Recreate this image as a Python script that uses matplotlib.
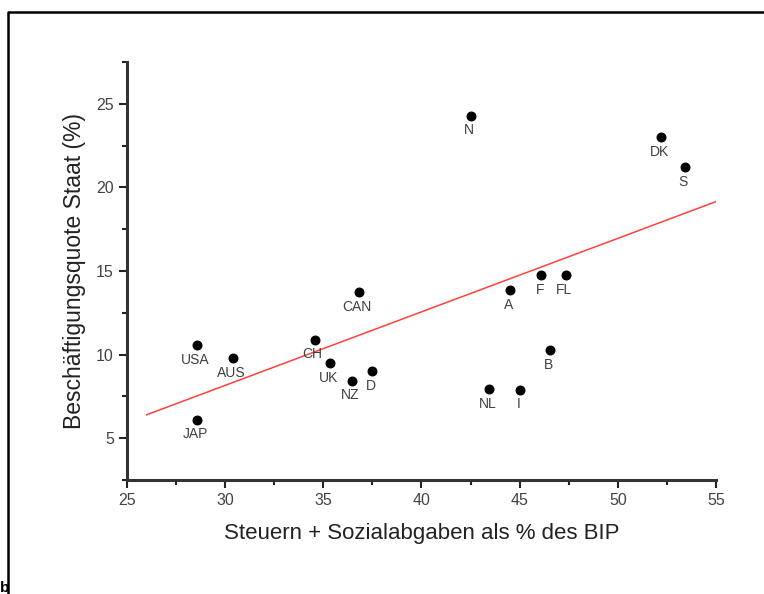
import matplotlib.pyplot as plt
from matplotlib.lines import Line2D
from matplotlib.ticker import MultipleLocator

plt.rcParams['font.family'] = ['Liberation Sans', 'DejaVu Sans']

# Länder, Steuerquote (x) und Beschäftigungsquote Staat (y)
laender = ['N', 'DK', 'S', 'CAN', 'A', 'F', 'FL', 'CH', 'USA', 'AUS',
           'UK', 'NZ', 'D', 'B', 'NL', 'I', 'JAP']
steuern = [42.5, 52.2, 53.4, 36.8, 44.5, 46.1, 47.35, 34.6, 28.55, 30.4,
           35.35, 36.45, 37.5, 46.55, 43.45, 45.0, 28.55]
staat = [24.3, 23.0, 21.2, 13.75, 13.85, 14.75, 14.75, 10.9, 10.55, 9.8,
         9.5, 8.45, 9.0, 10.25, 7.95, 7.9, 6.1]

# Regressionsgerade (Endpunkte)
fit_x = [26.0, 55.0]
fit_y = [6.4, 19.15]

fig = plt.figure(figsize=(7.64, 5.94), dpi=100)
ax = fig.add_axes([0.1662, 0.1919, 0.7709, 0.7037])

ax.scatter(steuern, staat, s=38, color='black', zorder=3)
ax.plot(fit_x, fit_y, color='#ff4040', linewidth=1.1, zorder=2)

for nm, x, y in zip(laender, steuern, staat):
    dx = -2 if nm == 'CH' else -1
    ax.annotate(nm, (x, y), xytext=(dx, -5.5), textcoords='offset points',
                ha='center', va='top', fontsize=10, color='#404040')

ax.set_xlim(25, 55)
ax.set_ylim(2.5, 27.5)
ax.xaxis.set_major_locator(MultipleLocator(5))
ax.xaxis.set_minor_locator(MultipleLocator(2.5))
ax.yaxis.set_major_locator(MultipleLocator(5))
ax.yaxis.set_minor_locator(MultipleLocator(2.5))
ax.set_yticks([5, 10, 15, 20, 25])

for s in ['top', 'right']:
    ax.spines[s].set_visible(False)
for s in ['left', 'bottom']:
    ax.spines[s].set_linewidth(2.2)
    ax.spines[s].set_color('#333333')

ax.tick_params(which='major', direction='out', length=6, width=1.5,
               labelsize=11.5, labelcolor='#444444', color='#222222')
ax.tick_params(which='minor', direction='out', length=3.5, width=1.5,
               color='#222222')

ax.set_xlabel('Steuern + Sozialabgaben als % des BIP', fontsize=16,
              color='#222222', labelpad=11)
ax.set_ylabel('Beschäftigungsquote Staat (%)', fontsize=16.5,
              color='#222222', labelpad=7)

# Rahmen um die Abbildung
fx = 7.5 / 764
fy = 1 - 11.5 / 594
fig.add_artist(Line2D([fx, fx, 1.0], [0.0, fy, fy], transform=fig.transFigure,
                      color='black', linewidth=1.8))
fig.text(0.0, 0.004, 'b', fontsize=11, fontweight='bold', color='black')

fig.savefig('out.png', dpi=100)
